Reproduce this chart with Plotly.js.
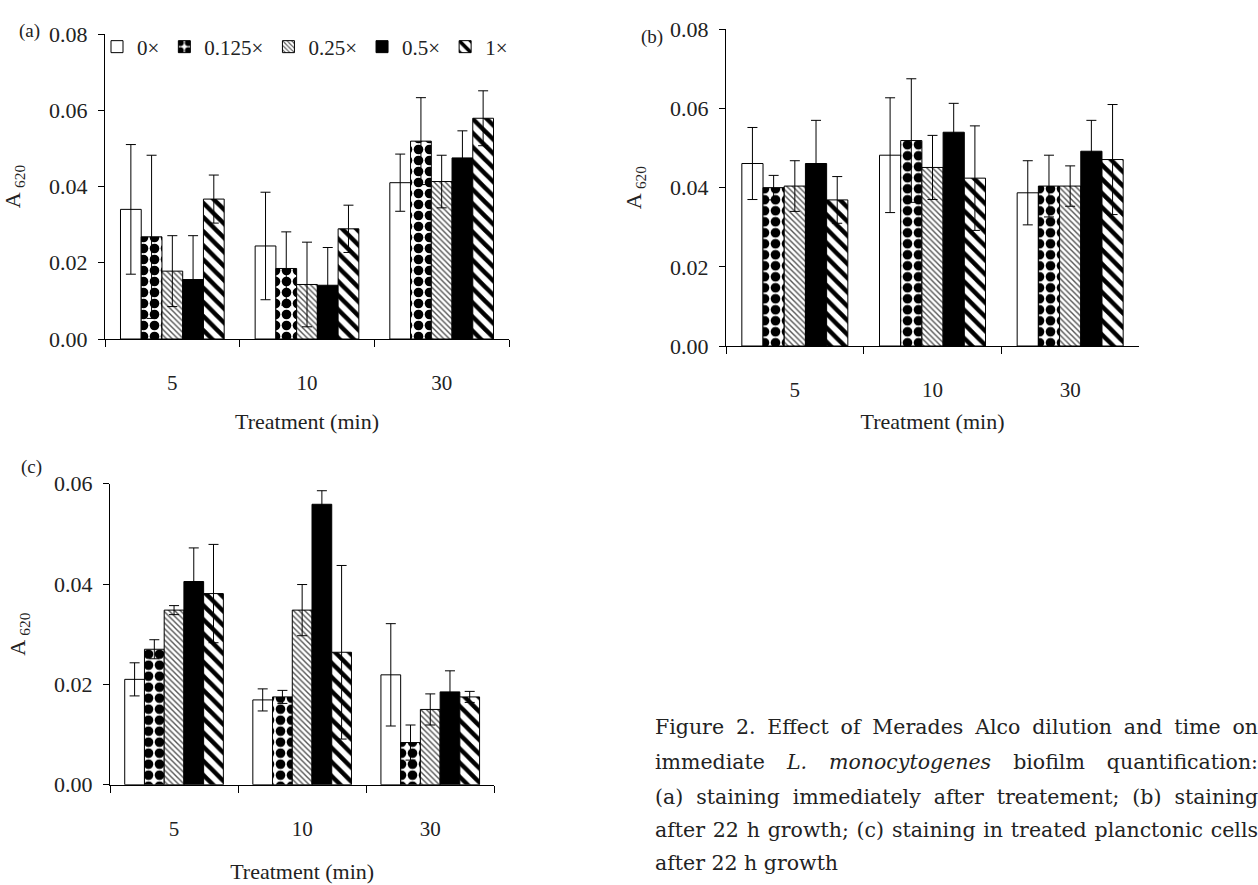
<!DOCTYPE html>
<html>
<head>
<meta charset="utf-8">
<script src="https://cdn.plot.ly/plotly-3.0.1.min.js"></script>
<style>
  html, body { margin: 0; padding: 0; background: #fff; }
  #chart { width: 1258px; height: 885px; }
</style>
</head>
<body>
<div id="chart"></div>
<script>
// ---------- data ----------
const categories = ['5', '10', '30'];
const seriesNames = ['0×', '0.125×', '0.25×', '0.5×', '1×'];

// Panel (a): staining immediately after treatment
const aVal0 = [0.0340, 0.0244, 0.0410];
const aVal0125 = [0.0268, 0.0185, 0.0519];
const aVal025 = [0.0178, 0.0143, 0.0413];
const aVal05 = [0.0156, 0.0141, 0.0475];
const aVal1 = [0.0367, 0.0289, 0.0579];
const aErr0 = [0.0170, 0.0141, 0.0075];
const aErr0125 = [0.0214, 0.0096, 0.0114];
const aErr025 = [0.0093, 0.0111, 0.0069];
const aErr05 = [0.0115, 0.0099, 0.0071];
const aErr1 = [0.0063, 0.0062, 0.0072];

// Panel (b): staining after 22 h growth
const bVal0 = [0.0461, 0.0482, 0.0387];
const bVal0125 = [0.0400, 0.0519, 0.0404];
const bVal025 = [0.0404, 0.0451, 0.0404];
const bVal05 = [0.0461, 0.0540, 0.0492];
const bVal1 = [0.0369, 0.0424, 0.0471];
const bErr0 = [0.0091, 0.0145, 0.0081];
const bErr0125 = [0.0031, 0.0156, 0.0078];
const bErr025 = [0.0064, 0.0081, 0.0051];
const bErr05 = [0.0109, 0.0073, 0.0078];
const bErr1 = [0.0059, 0.0132, 0.0139];

// Panel (c): staining in treated planctonic cells after 22 h growth
const cVal0 = [0.0210, 0.0169, 0.0219];
const cVal0125 = [0.0270, 0.0175, 0.0084];
const cVal025 = [0.0348, 0.0348, 0.0150];
const cVal05 = [0.0405, 0.0559, 0.0185];
const cVal1 = [0.0381, 0.0264, 0.0175];
const cErr0 = [0.0033, 0.0022, 0.0102];
const cErr0125 = [0.0019, 0.0013, 0.0035];
const cErr025 = [0.0009, 0.0051, 0.0031];
const cErr05 = [0.0067, 0.0027, 0.0042];
const cErr1 = [0.0098, 0.0173, 0.0011];

const yTickVals = [0, 0.02, 0.04, 0.06, 0.08];
const xTitle = 'Treatment (min)';
const yTitle = 'A <sub>620</sub>';

const captionLines = [
  'Figure 2. Effect of Merades Alco dilution and time on',
  'immediate <i>L. monocytogenes</i> biofilm quantification:',
  '(a) staining immediately after treatement; (b) staining',
  'after 22 h growth; (c) staining in treated planctonic cells',
  'after 22 h growth'
];
const captionJustify = [true, true, true, true, false];

// ---------- styles ----------
const W = 1258, H = 885;
const px = v => v / W;
const py = v => 1 - v / H;
const FONT = 'Liberation Serif, Times New Roman, serif';
const CAP_FONT = 'DejaVu Serif';
const CAP_SIZE = 20.5;

const styles = [
  { color: '#ffffff', pattern: { shape: '' } },
  { color: '#ffffff', pattern: { shape: '.', fgcolor: '#000', bgcolor: '#fff', size: 11, solidity: 0.6, fillmode: 'replace' } },
  { color: '#ffffff', pattern: { shape: '\\', fgcolor: '#555', bgcolor: '#fff', size: 4, solidity: 0.35, fillmode: 'replace' } },
  { color: '#000000', pattern: { shape: '' } },
  { color: '#ffffff', pattern: { shape: '\\', fgcolor: '#000', bgcolor: '#fff', size: 10, solidity: 0.45, fillmode: 'replace' } }
];

function panelTraces(vals, errs, xa, ya, showLegend) {
  return vals.map((v, i) => ({
    type: 'bar',
    name: seriesNames[i],
    x: categories,
    y: v,
    xaxis: xa,
    yaxis: ya,
    showlegend: showLegend,
    legendgroup: seriesNames[i],
    marker: {
      color: styles[i].color,
      pattern: styles[i].pattern,
      line: { color: '#000', width: 1 }
    },
    error_y: { type: 'data', array: errs[i], visible: true, color: '#000', thickness: 1, width: 5 },
    hoverinfo: 'skip'
  }));
}

const data = [].concat(
  panelTraces([aVal0, aVal0125, aVal025, aVal05, aVal1], [aErr0, aErr0125, aErr025, aErr05, aErr1], 'x', 'y', true),
  panelTraces([bVal0, bVal0125, bVal025, bVal05, bVal1], [bErr0, bErr0125, bErr025, bErr05, bErr1], 'x2', 'y2', false),
  panelTraces([cVal0, cVal0125, cVal025, cVal05, cVal1], [cErr0, cErr0125, cErr025, cErr05, cErr1], 'x3', 'y3', false)
);

function xAxis(d0, d1, anchor, standoff) {
  return {
    domain: [px(d0), px(d1)], anchor: anchor, type: 'category',
    showline: true, linecolor: '#000', linewidth: 1,
    ticks: 'outside', tickson: 'boundaries', ticklen: 7, tickcolor: '#000', tickwidth: 1,
    tickfont: { family: FONT, size: 21, color: '#222' },
    ticklabelstandoff: 25,
    title: { text: xTitle, font: { family: FONT, size: 22, color: '#222' }, standoff: standoff },
    automargin: false,
    showgrid: false, zeroline: false, fixedrange: true
  };
}
function yAxis(top, bottom, maxV, anchor, standoff) {
  return {
    domain: [py(bottom), py(top)], anchor: anchor, range: [0, maxV],
    tickvals: yTickVals.filter(v => v <= maxV + 1e-9), tickformat: '.2f',
    showline: true, linecolor: '#000', linewidth: 1,
    ticks: 'outside', ticklen: 6, tickcolor: '#000', tickwidth: 1,
    tickfont: { family: FONT, size: 22, color: '#222' },
    ticklabelstandoff: 6,
    title: { text: yTitle, font: { family: FONT, size: 22, color: '#222' }, standoff: standoff },
    automargin: false,
    showgrid: false, zeroline: false, fixedrange: true
  };
}

const annotations = [
  { text: '(a)', x: px(17), y: py(18), xref: 'paper', yref: 'paper', showarrow: false, font: { family: FONT, size: 19, color: '#222' } },
  { text: '(b)', x: px(652), y: py(24), xref: 'paper', yref: 'paper', showarrow: false, font: { family: FONT, size: 19, color: '#222' } },
  { text: '(c)', x: px(19), y: py(467), xref: 'paper', yref: 'paper', showarrow: false, font: { family: FONT, size: 19, color: '#222' } }
];

// justified caption lines (word spacing computed from measured text width)
const capLeft = 653, capRight = 1256;
const capY = [727, 762, 797, 830, 863];
const ctx = document.createElement('canvas').getContext('2d');
function measure(html) {
  let total = 0;
  const parts = html.split(/(<i>.*?<\/i>)/);
  parts.forEach(p => {
    if (!p) return;
    const it = p.startsWith('<i>');
    const t = p.replace(/<\/?i>/g, '');
    ctx.font = (it ? 'italic ' : '') + CAP_SIZE + 'px "' + CAP_FONT + '"';
    total += ctx.measureText(t).width;
  });
  return total;
}
captionLines.forEach((t, i) => {
  let txt = t;
  if (captionJustify[i]) {
    const gaps = (t.replace(/<\/?i>/g, '').match(/ /g) || []).length;
    const ws = Math.max(0, (capRight - capLeft - measure(t)) / gaps);
    txt = '<span style="word-spacing:' + ws.toFixed(2) + 'px">' + t + '</span>';
  }
  annotations.push({
    text: txt, x: px(capLeft), y: py(capY[i]), xref: 'paper', yref: 'paper',
    xanchor: 'left', yanchor: 'middle', showarrow: false, align: 'left',
    font: { family: CAP_FONT + ', serif', size: CAP_SIZE, color: '#222' }
  });
});

const layout = {
  width: W, height: H,
  margin: { l: 0, r: 0, t: 0, b: 0 },
  paper_bgcolor: '#fff', plot_bgcolor: 'rgba(0,0,0,0)',
  barmode: 'group', bargap: 0.23, bargroupgap: 0,
  showlegend: true,
  legend: {
    orientation: 'h', x: px(305), xanchor: 'center', y: py(47), yanchor: 'middle',
    font: { family: FONT, size: 21, color: '#222' },
    bgcolor: 'rgba(0,0,0,0)', itemwidth: 30, traceorder: 'normal'
  },
  xaxis: xAxis(105, 509, 'y', 19),
  yaxis: yAxis(34, 339, 0.08, 'x', 22),
  xaxis2: xAxis(726, 1139, 'y2', 12),
  yaxis2: yAxis(29.3, 346, 0.08, 'x2', 22),
  xaxis3: xAxis(110, 494.3, 'y3', 23),
  yaxis3: yAxis(483.7, 784.7, 0.06, 'x3', 22),
  annotations: annotations
};

Plotly.newPlot('chart', data, layout, { staticPlot: true, displayModeBar: false });
</script>
</body>
</html>
